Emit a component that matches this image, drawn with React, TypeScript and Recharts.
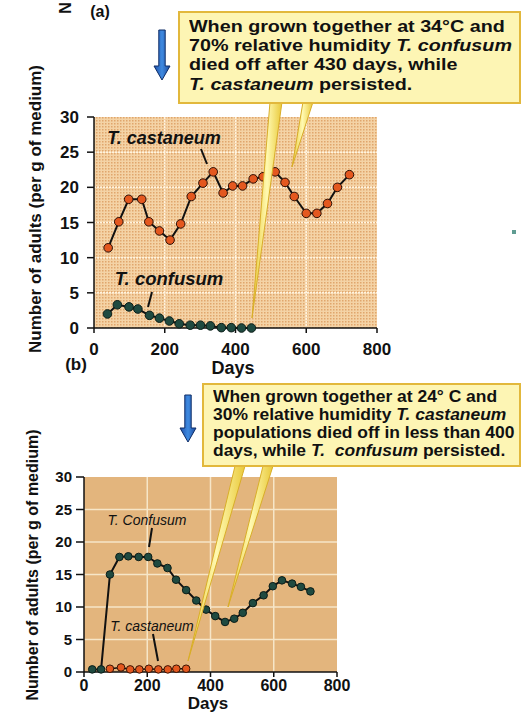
import React from "react";
import { LineChart, Line, XAxis, YAxis, CartesianGrid } from "recharts";

// Panel (a): 34°C, 70% relative humidity
const A_CAST_DAYS = [40, 70, 98, 135, 155, 185, 215, 245, 275, 308, 337, 365, 392, 420, 450, 478, 512, 540, 566, 600, 630, 660, 688, 722];
const A_CAST_VALUES = [11.4, 15.1, 18.3, 18.3, 15.1, 13.8, 12.5, 14.8, 18.7, 20.6, 22.2, 19.2, 20.2, 20.2, 21.2, 21.5, 22.2, 20.7, 18.7, 16.3, 16.3, 17.7, 20.0, 21.8];
const A_CONF_DAYS = [38, 66, 99, 124, 157, 185, 213, 241, 272, 301, 329, 360, 388, 417, 445];
const A_CONF_VALUES = [2.0, 3.3, 3.0, 2.7, 1.8, 1.4, 1.0, 0.6, 0.4, 0.4, 0.3, 0.05, 0.05, 0, 0];

// Panel (b): 24°C, 30% relative humidity
const B_CONF_DAYS = [26, 54, 82, 112, 140, 173, 203, 232, 264, 291, 323, 355, 386, 415, 446, 475, 502, 534, 568, 597, 626, 658, 686, 716];
const B_CONF_VALUES = [0.4, 0.4, 15.0, 17.7, 17.8, 17.7, 17.7, 16.7, 16.0, 14.2, 12.6, 11.0, 9.6, 8.6, 7.7, 8.2, 9.1, 10.6, 11.8, 13.2, 14.1, 13.6, 13.1, 12.4];
const B_CAST_DAYS = [82, 117, 146, 175, 205, 235, 265, 292, 323];
const B_CAST_VALUES = [0.5, 0.7, 0.4, 0.4, 0.5, 0.4, 0.4, 0.5, 0.5];

const X_TICKS = [0, 200, 400, 600, 800];
const Y_TICKS = [0, 5, 10, 15, 20, 25, 30];

const zip = (days: number[], vals: number[]) => days.map((d, i) => ({ day: d, n: vals[i] }));

const FONT = "'Liberation Sans', Arial, Helvetica, sans-serif";
const CAST_FILL = "#e4581f";
const CONF_FILL = "#1f4a40";

const abs = (left: number, top: number, extra: React.CSSProperties = {}): React.CSSProperties => ({
  position: "absolute",
  left,
  top,
  ...extra,
});

function RotatedLabel({ cx, cy, size, text }: { cx: number; cy: number; size: number; text: string }) {
  return (
    <div style={abs(cx, cy, { width: 0, height: 0 })}>
      <div
        style={{
          position: "absolute",
          left: 0,
          top: 0,
          transform: "translate(-50%, -50%) rotate(-90deg)",
          whiteSpace: "nowrap",
          fontFamily: FONT,
          fontWeight: 700,
          fontSize: size,
          color: "#111",
        }}
      >
        {text}
      </div>
    </div>
  );
}

function CenterText({ cx, cy, size, children, italic = false, weight = 700 }: any) {
  return (
    <div style={abs(cx, cy, { width: 0, height: 0 })}>
      <div
        style={{
          position: "absolute",
          left: 0,
          top: 0,
          transform: "translate(-50%, -50%)",
          whiteSpace: "nowrap",
          fontFamily: FONT,
          fontWeight: weight,
          fontStyle: italic ? "italic" : "normal",
          fontSize: size,
          color: "#111",
        }}
      >
        {children}
      </div>
    </div>
  );
}

function PanelA() {
  return (
    <LineChart width={529} height={400} margin={{ top: 117, right: 152, bottom: 42, left: 54 }}>
      <defs>
        <pattern id="dotsA" width="3" height="3" patternUnits="userSpaceOnUse">
          <rect width="3" height="3" fill="#f4d3a6" />
          <rect width="1.5" height="1.5" fill="#e0a66c" />
        </pattern>
      </defs>
      <CartesianGrid
        fill="url(#dotsA)"
        fillOpacity={1}
        stroke="#fff3df"
        strokeWidth={1.5}
        strokeDasharray="2 1"
        horizontalValues={[5, 10, 15, 20, 25]}
        verticalValues={[200, 400, 600]}
      />
      <XAxis
        dataKey="day"
        type="number"
        domain={[0, 800]}
        ticks={X_TICKS}
        allowDataOverflow
        axisLine={{ stroke: "#111", strokeWidth: 1.5 }}
        tickLine={{ stroke: "#111", strokeWidth: 1.5 }}
        tickSize={5}
        tickMargin={10}
        height={30}
        tick={{ fill: "#111", fontSize: 17, fontWeight: 700, fontFamily: FONT }}
      />
      <YAxis
        type="number"
        domain={[0, 30]}
        ticks={Y_TICKS}
        width={40}
        axisLine={{ stroke: "#111", strokeWidth: 1.5 }}
        tickLine={{ stroke: "#111", strokeWidth: 1.5 }}
        tickSize={7}
        tickMargin={8}
        tick={{ fill: "#111", fontSize: 17, fontWeight: 700, fontFamily: FONT }}
      />
      <Line
        data={zip(A_CONF_DAYS, A_CONF_VALUES)}
        dataKey="n"
        type="linear"
        stroke="#111"
        strokeWidth={2}
        dot={{ r: 4.3, fill: CONF_FILL, stroke: "#0b1d18", strokeWidth: 1 }}
        isAnimationActive={false}
      />
      <Line
        data={zip(A_CAST_DAYS, A_CAST_VALUES)}
        dataKey="n"
        type="linear"
        stroke="#111"
        strokeWidth={2}
        dot={{ r: 4.3, fill: CAST_FILL, stroke: "#2a0e04", strokeWidth: 1 }}
        isAnimationActive={false}
      />
    </LineChart>
  );
}

function PanelB() {
  return (
    <LineChart width={529} height={340} margin={{ top: 97, right: 192, bottom: 18, left: 44 }}>
      <CartesianGrid
        fill="#e3b57d"
        fillOpacity={1}
        stroke="#f6e6c8"
        strokeWidth={1.5}
        horizontalValues={[5, 10, 15, 20, 25]}
        verticalValues={[200, 400, 600]}
      />
      <XAxis
        dataKey="day"
        type="number"
        domain={[0, 800]}
        ticks={X_TICKS}
        axisLine={{ stroke: "#111", strokeWidth: 1.5 }}
        tickLine={{ stroke: "#111", strokeWidth: 1.5 }}
        tickSize={5}
        tickMargin={3}
        height={30}
        tick={{ fill: "#111", fontSize: 16, fontWeight: 700, fontFamily: FONT }}
      />
      <YAxis
        type="number"
        domain={[0, 30]}
        ticks={Y_TICKS}
        width={40}
        axisLine={{ stroke: "#111", strokeWidth: 1.5 }}
        tickLine={{ stroke: "#111", strokeWidth: 1.5 }}
        tickSize={8}
        tickMargin={4}
        tick={{ fill: "#111", fontSize: 15, fontWeight: 700, fontFamily: FONT }}
      />
      <Line
        data={zip(B_CONF_DAYS, B_CONF_VALUES)}
        dataKey="n"
        type="linear"
        stroke="#111"
        strokeWidth={2}
        dot={{ r: 3.8, fill: CONF_FILL, stroke: "#0b1d18", strokeWidth: 1 }}
        isAnimationActive={false}
      />
      <Line
        data={zip(B_CAST_DAYS, B_CAST_VALUES)}
        dataKey="n"
        type="linear"
        stroke="#111"
        strokeWidth={1.5}
        dot={{ r: 3.8, fill: CAST_FILL, stroke: "#3a1404", strokeWidth: 1 }}
        isAnimationActive={false}
      />
    </LineChart>
  );
}

// Callout pointer wedges and the blue arrows, drawn over both panels
function Overlay() {
  const wedge = (bx1: number, bx2: number, by: number, tx: number, ty: number) =>
    `M${bx1},${by} L${bx2},${by} L${tx},${ty} Z`;
  const arrow = (cx: number, y1: number, y2: number) => {
    const s = 3.2;
    const h = 8;
    const hl = 14;
    return `M${cx - s},${y1} L${cx + s},${y1} L${cx + s},${y2 - hl} L${cx + h},${y2 - hl} L${cx},${y2} L${cx - h},${y2 - hl} L${cx - s},${y2 - hl} Z`;
  };
  return (
    <svg width={529} height={720} style={abs(0, 0, { pointerEvents: "none" })}>
      <defs>
        <linearGradient id="wedgeFill" x1="0" y1="0" x2="1" y2="0">
          <stop offset="0" stopColor="#e9c93a" />
          <stop offset="0.5" stopColor="#fff9b0" />
          <stop offset="1" stopColor="#e9c93a" />
        </linearGradient>
        <linearGradient id="arrowFill" x1="0" y1="0" x2="1" y2="0">
          <stop offset="0" stopColor="#1e4fa8" />
          <stop offset="0.5" stopColor="#3f8ae0" />
          <stop offset="1" stopColor="#1c4a9e" />
        </linearGradient>
      </defs>
      <path d={wedge(270, 282, 102, 252, 318)} fill="url(#wedgeFill)" stroke="#d8ad28" strokeWidth={1} />
      <path d={wedge(303, 313, 102, 292, 167)} fill="url(#wedgeFill)" stroke="#d8ad28" strokeWidth={1} />
      <path d={wedge(235, 245, 466, 188, 661)} fill="url(#wedgeFill)" stroke="#d8ad28" strokeWidth={1} />
      <path d={wedge(263, 273, 466, 228, 607)} fill="url(#wedgeFill)" stroke="#d8ad28" strokeWidth={1} />
      <path d={arrow(162, 30, 80)} fill="url(#arrowFill)" stroke="#0e2c66" strokeWidth={1} />
      <path d={arrow(188, 395, 442)} fill="url(#arrowFill)" stroke="#0e2c66" strokeWidth={1} />
      {/* leader ticks from the species names to their curves */}
      <line x1={201} y1={149} x2={207} y2={164} stroke="#111" strokeWidth={2} />
      <line x1={152} y1={292} x2={148} y2={307} stroke="#111" strokeWidth={2} />
      <line x1={152} y1={528} x2={149} y2={547} stroke="#111" strokeWidth={2} />
      <line x1={153} y1={634} x2={158} y2={661} stroke="#111" strokeWidth={2} />
    </svg>
  );
}

// Yellow note box; each line is its own block, stretched horizontally to the
// condensed-heavy look of the printed lettering.
function Callout({ left, top, width, height, size, lineHeight, padTop, stretch, lines }: any) {
  return (
    <div
      style={abs(left, top, {
        width,
        height,
        boxSizing: "border-box",
        background: "#fdf5b4",
        border: "2px solid #e2b83c",
        padding: `${padTop}px 0 0 9px`,
        fontFamily: FONT,
        fontWeight: 700,
        fontSize: size,
        lineHeight: `${lineHeight}px`,
        color: "#111",
        whiteSpace: "nowrap",
      })}
    >
      {lines.map((ln: React.ReactNode, i: number) => (
        <div key={i} style={{ height: lineHeight, transform: `scaleX(${stretch})`, transformOrigin: "0 50%" }}>
          {ln}
        </div>
      ))}
    </div>
  );
}

export default function App() {
  return (
    <div style={abs(0, 0, { width: 529, height: 720, background: "#fff", overflow: "hidden" })}>
      <div style={abs(0, 0)}>
        <PanelA />
      </div>
      <div style={abs(0, 380)}>
        <PanelB />
      </div>

      <Overlay />

      {/* panel (a) texts */}
      <RotatedLabel cx={66} cy={8} size={16} text="N" />
      <CenterText cx={100} cy={12} size={16}>(a)</CenterText>
      <RotatedLabel cx={36} cy={209} size={17} text="Number of adults (per g of medium)" />
      <CenterText cx={233} cy={368} size={18}>Days</CenterText>
      <CenterText cx={76} cy={365} size={17}>(b)</CenterText>
      <CenterText cx={164} cy={138} size={18} italic>T. castaneum</CenterText>
      <CenterText cx={169} cy={279} size={18.5} italic>T. confusum</CenterText>

      <Callout
        left={178}
        top={11}
        width={343}
        height={93}
        size={17}
        lineHeight={19.2}
        padTop={4}
        stretch={1.16}
        lines={[
          <>When grown together at 34°C and</>,
          <>70% relative humidity <i>T. confusum</i></>,
          <>died off after 430 days, while</>,
          <><i>T. castaneum</i> persisted.</>,
        ]}
      />

      {/* panel (b) texts */}
      <RotatedLabel cx={33} cy={565} size={16} text="Number of adults (per g of medium)" />
      <CenterText cx={208} cy={704} size={17}>Days</CenterText>
      <CenterText cx={147} cy={520} size={14} italic weight={400}>T. Confusum</CenterText>
      <CenterText cx={152} cy={626} size={14} italic weight={400}>T. castaneum</CenterText>

      <Callout
        left={202}
        top={383}
        width={319}
        height={84}
        size={16}
        lineHeight={18}
        padTop={3}
        stretch={1.09}
        lines={[
          <>When grown together at 24° C and</>,
          <>30% relative humidity <i>T. castaneum</i></>,
          <>populations died off in less than 400</>,
          <>days, while <i>T.&nbsp; confusum</i> persisted.</>,
        ]}
      />

      <div style={abs(512, 230, { width: 4, height: 4, background: "#5f9c92" })} />
    </div>
  );
}
